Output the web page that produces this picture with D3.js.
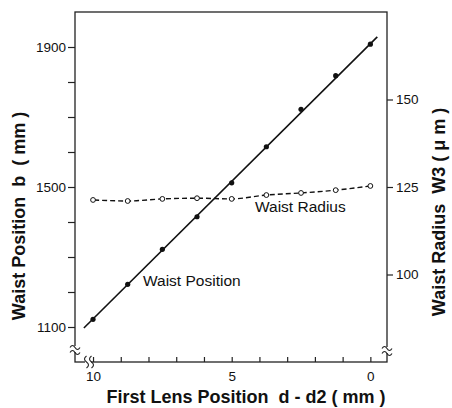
<!DOCTYPE html>
<html>
<head>
<meta charset="utf-8">
<script src="https://cdn.jsdelivr.net/npm/d3@7"></script>
<style>
  body { margin: 0; background: #fff; }
  svg { font-family: "Liberation Sans", Arial, sans-serif; }
</style>
</head>
<body>
<div class="canvas"></div>
<script>
// data
const lensPos = [10, 8.75, 7.5, 6.25, 5, 3.75, 2.5, 1.25, 0];
const waistPosition = [1122, 1222, 1322, 1415, 1512, 1615, 1722, 1818, 1908];
const waistRadius = [121.3, 121.0, 121.6, 121.8, 121.6, 122.7, 123.3, 124.1, 125.3];
const fitX = [10.33, -0.25];
const fitY = [1097, 1929];
const leftTicks = [1100, 1200, 1300, 1400, 1500, 1600, 1700, 1800, 1900];
const leftLabels = [1100, 1500, 1900];
const rightTicks = [100, 125, 150];
const xTicks = [0, 1, 2, 3, 4, 5, 6, 7, 8, 9, 10];
const xLabels = [0, 5, 10];

const margin = { top: 12, bottom: 46, left: 75, right: 65 };
const graphWidth = 452 - margin.left - margin.right;
const graphHeight = 408 - margin.top - margin.bottom;

const svg = d3
  .select(".canvas")
  .append("svg")
  .attr("width", 452)
  .attr("height", 408);

const graph = svg
  .append("g")
  .attr("transform", `translate(${margin.left},${margin.top})`);

// scales
const x = d3.scaleLinear().domain([10.65, -0.6]).range([0, graphWidth]);
const yL = d3.scaleLinear().domain([1000, 2000]).range([graphHeight, 0]);
const yR = d3.scaleLinear().domain([75, 175]).range([graphHeight, 0]);

// frame
graph
  .append("rect")
  .attr("width", graphWidth)
  .attr("height", graphHeight)
  .attr("fill", "none")
  .attr("stroke", "#222")
  .attr("stroke-width", 1.3);

// axes
const leftAxis = d3
  .axisLeft(yL)
  .tickValues(leftTicks)
  .tickSizeInner(7)
  .tickSizeOuter(0)
  .tickPadding(2)
  .tickFormat((d) => (leftLabels.includes(d) ? d : ""));

const rightAxis = d3
  .axisRight(yR)
  .tickValues(rightTicks)
  .tickSizeInner(6)
  .tickSizeOuter(0)
  .tickPadding(3);

const bottomAxis = d3
  .axisBottom(x)
  .tickValues(xTicks)
  .tickSizeInner(-5)
  .tickSizeOuter(0)
  .tickPadding(9)
  .tickFormat((d) => (xLabels.includes(d) ? d : ""));

const styleAxis = (g) => {
  g.select(".domain").remove();
  g.selectAll("line").attr("stroke", "#222").attr("stroke-width", 1.2);
  g.selectAll("text")
    .attr("fill", "#111")
    .style("font-size", "13.5px")
    .style("font-family", "Liberation Sans, Arial, sans-serif");
};

graph.append("g").call(leftAxis).call(styleAxis);
graph
  .append("g")
  .attr("transform", `translate(${graphWidth},0)`)
  .call(rightAxis)
  .call(styleAxis);
graph
  .append("g")
  .attr("transform", `translate(0,${graphHeight})`)
  .call(bottomAxis)
  .call(styleAxis);

// axis breaks
const wave = (cx, cy, w) =>
  `M${cx - w},${cy + 1} q${w / 2},-4 ${w},0 t${w},0`;

const breakV = (cx, cy) => {
  graph
    .append("rect")
    .attr("x", cx - 3)
    .attr("y", cy - 3)
    .attr("width", 6)
    .attr("height", 6)
    .attr("fill", "#fff");
  [-2.5, 2.5].forEach((o) => {
    graph
      .append("path")
      .attr("d", wave(cx, cy + o, 5))
      .attr("fill", "none")
      .attr("stroke", "#222")
      .attr("stroke-width", 1.1);
  });
};
breakV(0, graphHeight - 13);
breakV(graphWidth, graphHeight - 12);

// horizontal break on the x axis
graph
  .append("rect")
  .attr("x", 10)
  .attr("y", graphHeight - 3)
  .attr("width", 6)
  .attr("height", 6)
  .attr("fill", "#fff");
[10.5, 15.5].forEach((ox) => {
  graph
    .append("path")
    .attr("d", `M${ox + 1},${graphHeight - 6} q-4,${3} 0,6 t0,6`)
    .attr("fill", "none")
    .attr("stroke", "#222")
    .attr("stroke-width", 1.1);
});

// fit line for waist position
const fitLine = d3
  .line()
  .x((d) => x(d[0]))
  .y((d) => yL(d[1]));

graph
  .append("path")
  .datum(d3.zip(fitX, fitY))
  .attr("fill", "none")
  .attr("stroke", "#111")
  .attr("stroke-width", 1.6)
  .attr("d", fitLine);

graph
  .selectAll("circle.pos")
  .data(d3.zip(lensPos, waistPosition))
  .enter()
  .append("circle")
  .attr("class", "pos")
  .attr("r", 2.6)
  .attr("cx", (d) => x(d[0]))
  .attr("cy", (d) => yL(d[1]))
  .attr("fill", "#111");

// dashed curve for waist radius
const radiusLine = d3
  .line()
  .curve(d3.curveMonotoneX)
  .x((d) => x(d[0]))
  .y((d) => yR(d[1]));

const radiusData = d3.zip(lensPos, waistRadius).reverse();

graph
  .append("path")
  .datum(radiusData)
  .attr("fill", "none")
  .attr("stroke", "#111")
  .attr("stroke-width", 1.4)
  .attr("stroke-dasharray", "5,3")
  .attr("d", radiusLine);

graph
  .selectAll("circle.rad")
  .data(radiusData)
  .enter()
  .append("circle")
  .attr("class", "rad")
  .attr("r", 2.4)
  .attr("cx", (d) => x(d[0]))
  .attr("cy", (d) => yR(d[1]))
  .attr("fill", "#fff")
  .attr("stroke", "#111")
  .attr("stroke-width", 1);

// series labels
svg
  .append("text")
  .attr("x", 255)
  .attr("y", 212)
  .attr("fill", "#111")
  .style("font-size", "15.5px")
  .text("Waist Radius");

svg
  .append("text")
  .attr("x", 143)
  .attr("y", 286)
  .attr("fill", "#111")
  .style("font-size", "15.5px")
  .text("Waist Position");

// axis titles
svg
  .append("text")
  .attr("transform", "translate(25,216) rotate(-90)")
  .attr("text-anchor", "middle")
  .attr("fill", "#111")
  .style("font-size", "18px")
  .style("font-weight", "bold")
  .style("white-space", "pre")
  .text("Waist Position  b  ( mm )");

svg
  .append("text")
  .attr("transform", "translate(445,212) rotate(-90)")
  .attr("text-anchor", "middle")
  .attr("fill", "#111")
  .style("font-size", "18px")
  .style("font-weight", "bold")
  .style("white-space", "pre")
  .text("Waist Radius  W3 ( μ m )");

svg
  .append("text")
  .attr("x", 246)
  .attr("y", 403)
  .attr("text-anchor", "middle")
  .attr("fill", "#111")
  .style("font-size", "18px")
  .style("font-weight", "bold")
  .style("white-space", "pre")
  .text("First Lens Position  d - d2 ( mm )");
</script>
</body>
</html>
